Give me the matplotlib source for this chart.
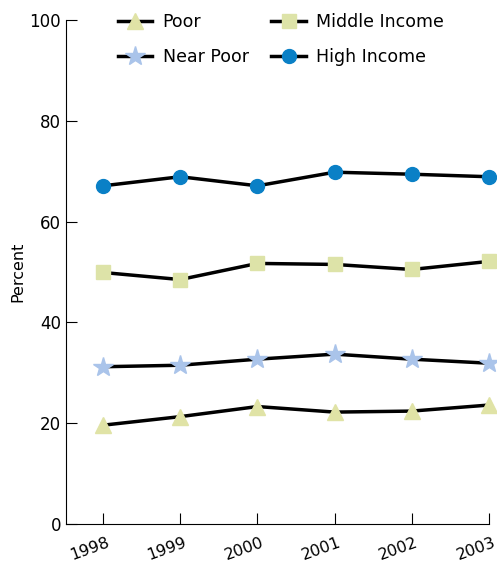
import matplotlib.pyplot as plt
import matplotlib.transforms as mtransforms

years = [1998, 1999, 2000, 2001, 2002, 2003]
poor = [19.6, 21.3, 23.3, 22.2, 22.4, 23.6]
near_poor = [31.2, 31.5, 32.7, 33.7, 32.7, 31.9]
middle = [49.9, 48.5, 51.7, 51.5, 50.5, 52.1]
high = [67.1, 68.9, 67.1, 69.8, 69.4, 68.9]

fig = plt.figure(figsize=(4.97, 5.65), dpi=100)
ax = fig.add_axes([0.1328, 0.0726, 0.851, 0.892])

ax.plot(years, poor, color='black', lw=2.5, marker='^', ms=11,
        mfc='#e0e3a6', mec='#e0e3a6', label='Poor', clip_on=False)
ax.plot(years, near_poor, color='black', lw=2.5, marker='*', ms=15,
        mfc='#aac4ea', mec='#aac4ea', label='Near Poor', clip_on=False)
ax.plot(years, middle, color='black', lw=2.5, marker='s', ms=10,
        mfc='#dde3a8', mec='#dde3a8', label='Middle Income', clip_on=False)
ax.plot(years, high, color='black', lw=2.5, marker='o', ms=10,
        mfc='#0a80c6', mec='#0a80c6', label='High Income', clip_on=False)

ax.set_xlim(1997.52, 2003)
ax.set_ylim(0, 100)
ax.set_xticks(years)
ax.set_xticklabels([str(y) for y in years], rotation=20, ha='right',
                   rotation_mode='anchor', fontsize=11.5)
ax.set_yticks([0, 20, 40, 60, 80, 100])
ax.tick_params(axis='both', direction='in', length=8, labelsize=12)
ax.tick_params(axis='x', pad=8, labelsize=11.5)
ax.spines['top'].set_visible(False)
ax.spines['right'].set_visible(False)
ax.set_ylabel('Percent', fontsize=11.5)
ax.yaxis.set_label_coords(-0.095, 0.5)

# small nudge so the rotated year labels end just past their ticks
off = mtransforms.ScaledTranslation(2.5 / 72, 0, fig.dpi_scale_trans)
for lab in ax.get_xticklabels():
    lab.set_transform(lab.get_transform() + off)

ax.legend(ncol=2, loc='upper left', bbox_to_anchor=(0.085, 1.045), frameon=False,
          fontsize=12.5, handlelength=2.0, handletextpad=0.6,
          columnspacing=1.3, labelspacing=1.0)

fig.savefig('out.png', dpi=100)
